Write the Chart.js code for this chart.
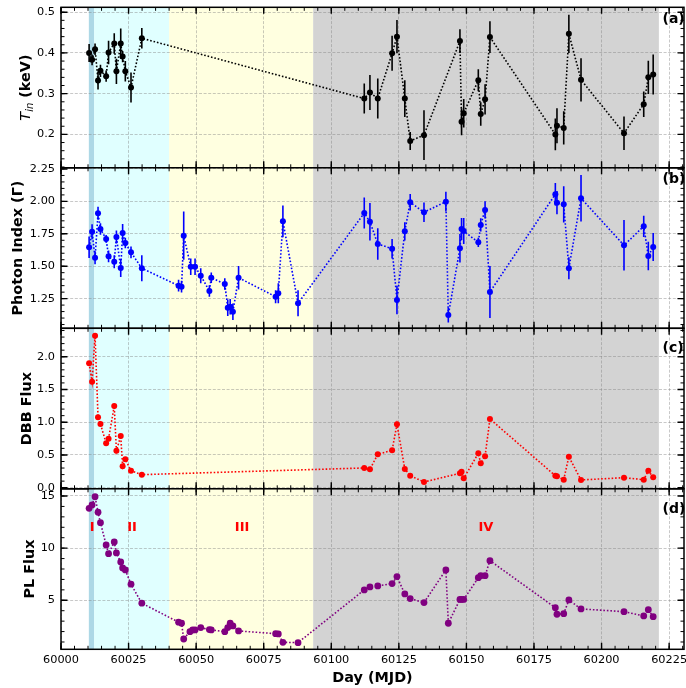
<!DOCTYPE html>
<html><head><meta charset="utf-8">
<script src="https://cdn.jsdelivr.net/npm/chart.js@4.4.1/dist/chart.umd.min.js"></script>
<style>
html,body{margin:0;padding:0;background:#fff;}
#wrap{position:relative;width:686px;height:688px;overflow:hidden;}
#wrap canvas{position:absolute;left:0;top:0;}
</style></head>
<body><div id="wrap">
<canvas id="pa" width="686" height="688"></canvas>
<canvas id="pb" width="686" height="688"></canvas>
<canvas id="pc" width="686" height="688"></canvas>
<canvas id="pd" width="686" height="688"></canvas>
</div>
<script>
// ---------------- data ----------------
const tinDays = [60010.4,60011.5,60012.6,60013.7,60014.6,60016.7,60017.6,60019.7,60020.5,60022.1,60022.8,60023.8,60025.9,60029.9,
  60112.2,60114.3,60117.2,60122.5,60124.3,60127.2,60129.2,60134.3,60147.6,60148.2,60149.0,60154.4,60155.3,60156.9,60158.7,
  60182.9,60183.5,60186.0,60187.9,60192.4,60208.3,60215.6,60217.3,60219.1];
const tinValues = [0.400,0.383,0.409,0.332,0.356,0.343,0.401,0.423,0.355,0.423,0.391,0.355,0.315,0.436,
  0.288,0.303,0.288,0.399,0.440,0.288,0.184,0.198,0.429,0.231,0.252,0.333,0.250,0.286,0.439,
  0.200,0.221,0.216,0.447,0.334,0.203,0.274,0.340,0.347];
const tinErrors = [0.022,0.013,0.014,0.022,0.015,0.014,0.029,0.025,0.031,0.037,0.014,0.025,0.037,0.025,
  0.037,0.043,0.049,0.043,0.041,0.045,0.022,0.061,0.029,0.033,0.035,0.027,0.029,0.037,0.039,
  0.039,0.043,0.041,0.047,0.053,0.041,0.031,0.041,0.049];

const gammaDays = [60010.4,60011.5,60012.6,60013.7,60014.6,60016.7,60017.6,60019.7,60020.5,60022.1,60022.8,60023.8,60025.9,60029.9,
  60043.5,60044.6,60045.4,60048.0,60049.6,60051.7,60054.9,60055.6,60060.6,60061.7,60062.6,60063.6,60065.7,60079.4,60080.4,60082.1,60087.7,
  60112.2,60114.3,60117.2,60122.5,60124.3,60127.2,60129.2,60134.3,60142.4,60143.3,60147.6,60148.2,60149.0,60154.4,60155.3,60156.9,60158.7,
  60182.9,60183.5,60186.0,60187.9,60192.4,60208.3,60215.6,60217.3,60219.1];
const gammaValues = [1.646,1.766,1.566,1.908,1.787,1.710,1.576,1.535,1.725,1.486,1.756,1.679,1.607,1.484,
  1.350,1.342,1.735,1.496,1.496,1.427,1.309,1.411,1.363,1.180,1.187,1.149,1.411,1.265,1.291,1.846,1.214,
  1.910,1.843,1.671,1.635,1.239,1.769,1.993,1.916,1.998,1.123,1.638,1.787,1.771,1.684,1.818,1.934,1.301,
  2.055,1.990,1.977,1.484,2.024,1.661,1.808,1.579,1.648];
const gammaErrors = [0.083,0.058,0.050,0.050,0.045,0.030,0.045,0.050,0.050,0.070,0.070,0.040,0.045,0.100,
  0.045,0.045,0.186,0.064,0.064,0.058,0.045,0.040,0.045,0.064,0.060,0.064,0.090,0.050,0.077,0.122,0.100,
  0.120,0.144,0.122,0.075,0.110,0.070,0.063,0.075,0.077,0.058,0.110,0.084,0.100,0.035,0.051,0.067,0.200,
  0.086,0.090,0.140,0.085,0.180,0.195,0.082,0.110,0.108];

const dbbDays = tinDays.slice();
const dbbValues = [1.899,1.618,2.321,1.075,0.973,0.678,0.748,1.247,0.565,0.789,0.326,0.433,0.260,0.199,
  0.301,0.281,0.510,0.571,0.968,0.285,0.183,0.087,0.220,0.244,0.143,0.525,0.372,0.479,1.049,
  0.183,0.174,0.122,0.473,0.118,0.153,0.122,0.260,0.159];

const plDays = [60010.4,60011.5,60012.6,60013.7,60014.6,60016.7,60017.6,60019.7,60020.5,60022.1,60022.8,60023.8,60025.9,60029.9,
  60043.5,60044.6,60045.4,60047.7,60048.7,60049.6,60051.7,60054.9,60055.6,60060.6,60061.7,60062.6,60063.6,60065.7,60079.4,60080.4,60082.1,60087.7,
  60112.2,60114.3,60117.2,60122.5,60124.3,60127.2,60129.2,60134.3,60142.4,60143.3,60147.6,60148.2,60149.0,60154.4,60155.3,60156.9,60158.7,
  60182.9,60183.5,60186.0,60187.9,60192.4,60208.3,60215.6,60217.3,60219.1];
const plValues = [13.82,14.14,14.93,13.44,12.44,10.30,9.47,10.59,9.54,8.67,8.10,7.91,6.54,4.72,
  2.90,2.80,1.29,1.99,2.16,2.16,2.38,2.19,2.16,1.99,2.38,2.80,2.54,2.06,1.80,1.77,0.97,0.94,
  5.99,6.28,6.38,6.60,7.27,5.61,5.16,4.78,7.91,2.80,5.08,5.08,5.08,7.17,7.36,7.36,8.80,
  4.29,3.66,3.72,5.03,4.17,3.91,3.50,4.10,3.43];

const xTicks = [60000,60025,60050,60075,60100,60125,60150,60175,60200,60225];
const tinTicks = [0.2,0.3,0.4,0.5];
const gammaTicks = [1.25,1.50,1.75,2.00,2.25];
const dbbTicks = [0.0,0.5,1.0,1.5,2.0];
const plTicks = [5,10,15];

const phaseEdges = [60010.3,60012.3,60040.0,60093.3,60221.2];
const phaseNames = ['I','II','III','IV'];
const phaseNameDays = [60011.5,60026.3,60067.0,60157.2];
const phaseNameLevel = 12;

// ---------------- style ----------------
const FONT = "'DejaVu Sans', sans-serif";
const PHASE_COLORS = ['#add8e6','#e0ffff','#ffffe0','#d3d3d3'];
const GRID = 'rgba(128,128,128,0.55)';
const X_MIN = 60000, X_MAX = 60230.5;
const LEFT = 61, RIGHT = 684;
const PANEL_TOPS = [7.3, 167.8, 328.3, 488.8, 649.3];

const decor = {
  id: 'decor',
  beforeDraw(chart, args, o) {
    const {ctx, chartArea: a, scales: {x}} = chart;
    ctx.save();
    for (let i = 0; i < PHASE_COLORS.length; i++) {
      const p0 = x.getPixelForValue(phaseEdges[i]), p1 = x.getPixelForValue(phaseEdges[i + 1]);
      ctx.fillStyle = PHASE_COLORS[i];
      ctx.fillRect(p0, a.top, p1 - p0, a.bottom - a.top);
    }
    ctx.restore();
  },
  beforeDatasetsDraw(chart) {
    const {ctx, chartArea: a, scales: {x, y}} = chart;
    chart.data.datasets.forEach(ds => {
      if (!ds.errors) return;
      ctx.save();
      ctx.beginPath(); ctx.rect(a.left, a.top, a.right - a.left, a.bottom - a.top); ctx.clip();
      ctx.strokeStyle = ds.borderColor; ctx.lineWidth = 1.6;
      ds.data.forEach((p, i) => {
        const px = x.getPixelForValue(p.x);
        ctx.beginPath();
        ctx.moveTo(px, y.getPixelForValue(p.y - ds.errors[i]));
        ctx.lineTo(px, y.getPixelForValue(p.y + ds.errors[i]));
        ctx.stroke();
      });
      ctx.restore();
    });
  },
  afterDraw(chart, args, o) {
    const {ctx, chartArea: a, scales: {x, y}} = chart;
    ctx.save();
    ctx.strokeStyle = '#000';
    const tx = (v, len, w) => {
      const p = x.getPixelForValue(v);
      ctx.lineWidth = w; ctx.beginPath();
      ctx.moveTo(p, a.bottom); ctx.lineTo(p, a.bottom - len);
      ctx.moveTo(p, a.top); ctx.lineTo(p, a.top + len);
      ctx.stroke();
    };
    const ty = (v, len, w) => {
      const p = y.getPixelForValue(v);
      ctx.lineWidth = w; ctx.beginPath();
      ctx.moveTo(a.left, p); ctx.lineTo(a.left + len, p);
      ctx.moveTo(a.right, p); ctx.lineTo(a.right - len, p);
      ctx.stroke();
    };
    for (let k = Math.ceil(X_MIN / 5); k * 5 <= X_MAX; k++) tx(k * 5, 3.5, 1);
    x.ticks.forEach(t => tx(t.value, 6.5, 1.4));
    const st = o.minor;
    for (let k = Math.ceil(y.min / st - 1e-9); k * st <= y.max + 1e-9; k++) ty(k * st, 3.5, 1);
    y.ticks.forEach(t => ty(t.value, 6.5, 1.4));
    ctx.lineWidth = 1.5;
    ctx.strokeRect(a.left, a.top, a.right - a.left, a.bottom - a.top);
    ctx.fillStyle = '#000';
    ctx.font = 'bold 14px ' + FONT;
    ctx.textAlign = 'left'; ctx.textBaseline = 'middle';
    ctx.fillText(o.tag, a.right - 21.5, a.top + o.tagDy);
    if (o.phases) {
      ctx.fillStyle = '#ff0000';
      ctx.font = 'bold 13px ' + FONT;
      ctx.textAlign = 'center';
      phaseNames.forEach((n, i) => ctx.fillText(n, x.getPixelForValue(phaseNameDays[i]), y.getPixelForValue(phaseNameLevel)));
    }
    if (o.tinTitle) {
      ctx.translate(a.left - 31, (a.top + a.bottom) / 2);
      ctx.rotate(-Math.PI / 2);
      const fT = 'italic 14.4px ' + FONT, fS = 'italic 10px ' + FONT, fB = 'bold 14.4px ' + FONT;
      ctx.font = fT; const wT = ctx.measureText('T').width;
      ctx.font = fS; const wS = ctx.measureText('in').width;
      ctx.font = fB; const wB = ctx.measureText(' (keV)').width;
      let sx = -(wT + wS + wB) / 2;
      ctx.fillStyle = '#000'; ctx.textBaseline = 'alphabetic'; ctx.textAlign = 'left';
      ctx.font = fT; ctx.fillText('T', sx, 0); sx += wT;
      ctx.font = fS; ctx.fillText('in', sx, 3); sx += wS;
      ctx.font = fB; ctx.fillText(' (keV)', sx, 0);
    }
    ctx.restore();
  }
};

function makePanel(id, idx, cfg) {
  const isBottom = idx === 3;
  const top = PANEL_TOPS[idx], bottom = PANEL_TOPS[idx + 1];
  return new Chart(document.getElementById(id), {
    type: 'line',
    data: { datasets: [{
      data: cfg.days.map((d, i) => ({x: d, y: cfg.values[i]})),
      errors: cfg.errors,
      borderColor: cfg.color, backgroundColor: cfg.color,
      borderWidth: 1.6, borderDash: [1.6, 1.9], borderCapStyle: 'butt',
      pointRadius: cfg.radius, pointHoverRadius: cfg.radius,
      pointBackgroundColor: cfg.color, pointBorderWidth: 0,
      tension: 0, fill: false
    }]},
    options: {
      responsive: false, animation: false, events: [],
      layout: { autoPadding: false, padding: {left: 0, right: 686 - RIGHT, top: top, bottom: isBottom ? 0 : 688 - bottom} },
      plugins: { legend: {display: false}, tooltip: {enabled: false},
        decor: { minor: cfg.minor, tag: cfg.tag, tagDy: cfg.tagDy, phases: isBottom, tinTitle: !cfg.title } },
      scales: {
        x: {
          type: 'linear', min: X_MIN, max: X_MAX,
          afterBuildTicks: s => { s.ticks = xTicks.map(v => ({value: v})); },
          afterFit: s => { s.height = isBottom ? 688 - bottom : 0; s.paddingLeft = 0; s.paddingRight = 0; },
          grid: {color: GRID, lineWidth: 0.8, drawTicks: false},
          border: {display: false, dash: [3, 1.6]},
          ticks: {display: isBottom, autoSkip: false, maxRotation: 0, padding: 4, color: '#000',
            font: {family: FONT, size: 11.3}, callback: v => String(v)},
          title: {display: isBottom, text: 'Day (MJD)', color: '#000',
            font: {family: FONT, size: 14.4, weight: 'bold'}, padding: {top: 0, bottom: 1.3}}
        },
        y: {
          type: 'linear', min: cfg.ymin, max: cfg.ymax,
          afterBuildTicks: s => { s.ticks = cfg.ticks.map(v => ({value: v})); },
          afterFit: s => { s.width = LEFT; s.paddingTop = 0; s.paddingBottom = 0; },
          grid: {color: GRID, lineWidth: 0.8, drawTicks: false},
          border: {display: false, dash: [3, 1.6]},
          ticks: {padding: 6, color: '#000', font: {family: FONT, size: 11.3}, callback: cfg.fmt},
          title: {display: !!cfg.title, text: cfg.title || '', color: '#000',
            font: {family: FONT, size: 14.4, weight: 'bold'}, padding: {top: cfg.titlePad || 0, bottom: 0}}
        }
      }
    },
    plugins: [decor]
  });
}

makePanel('pa', 0, {days: tinDays, values: tinValues, errors: tinErrors, color: '#000000', radius: 3,
  ymin: 0.118, ymax: 0.512, ticks: tinTicks, minor: 0.02, fmt: v => v.toFixed(1),
  title: null, tag: '(a)', tagDy: 11.7});
makePanel('pb', 1, {days: gammaDays, values: gammaValues, errors: gammaErrors, color: '#0000ff', radius: 3,
  ymin: 1.021, ymax: 2.259, ticks: gammaTicks, minor: 0.05, fmt: v => v.toFixed(2),
  title: 'Photon Index (Γ)', titlePad: 10, tag: '(b)', tagDy: 11.7});
makePanel('pc', 2, {days: dbbDays, values: dbbValues, errors: null, color: '#ff0000', radius: 3,
  ymin: -0.017, ymax: 2.434, ticks: dbbTicks, minor: 0.1, fmt: v => v.toFixed(1),
  title: 'DBB Flux', titlePad: 18.4, tag: '(c)', tagDy: 20.5});
makePanel('pd', 3, {days: plDays, values: plValues, errors: null, color: '#800080', radius: 3.4,
  ymin: 0.30, ymax: 15.69, ticks: plTicks, minor: 1, fmt: v => String(v),
  title: 'PL Flux', titlePad: 21.4, tag: '(d)', tagDy: 20.2});
</script>
</body></html>
